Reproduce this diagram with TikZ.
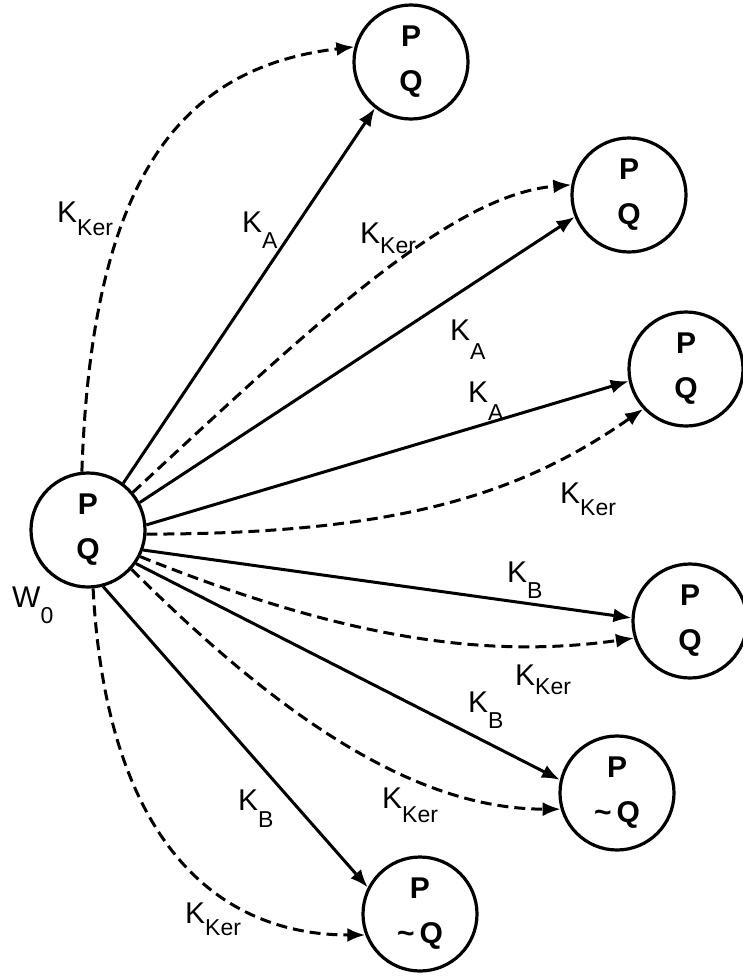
\documentclass[tikz,border=0pt]{standalone}
\usepackage{fontspec}
\setmainfont{Liberation Sans}
\usetikzlibrary{arrows.meta}
\newcommand\Klab[3]{#1\raisebox{-#3pt}{\fontsize{23}{23}\selectfont #2}}
\begin{document}
\begin{tikzpicture}[x=1pt,y=-1pt,
  world/.style={circle,draw,line width=3.2pt,minimum size=114pt,inner sep=0pt,align=center,
    font=\fontsize{30}{45}\selectfont\bfseries},
  acc/.style={line width=3pt,-{Latex[length=18pt,width=14pt]}},
  ker/.style={acc,dash pattern=on 11pt off 6pt},
  lab/.style={anchor=base west,inner sep=0pt,font=\fontsize{30}{30}\selectfont}]
\useasboundingbox (0,0) rectangle (743,977);
% worlds
\node[world] (w0) at (88,530) {P\\Q};
\node[world] (n1) at (411,62) {P\\Q};
\node[world] (n2) at (629,195) {P\\Q};
\node[world] (n3) at (686,369) {P\\Q};
\node[world] (n4) at (690,621) {P\\Q};
\node[world] (n5) at (617,793) {P\\\textasciitilde\,Q};
\node[world] (n6) at (420,914) {P\\\textasciitilde\,Q};
% solid accessibility
\draw[acc] (w0.53) -- (n1.-128);
\draw[acc] (w0.28) -- (n2.-158);
\draw[acc] (w0.5) -- (n3.-168);
\draw[acc] (w0.-20) -- (n4.177);
\draw[acc] (w0.-35) -- (n5.167);
\draw[acc] (w0.-75) -- (n6.153);
% dashed kernel
\draw[ker] (w0.96) .. controls +(10,-300) and +(-170,20) .. (n1.165);
\draw[ker] (w0.40) .. controls +(183,-170) and +(-120,10) .. (n2.170);
\draw[ker] (w0.-4) .. controls +(250,0) and +(-123,86) .. (n3.-137);
\draw[ker] (w0.-27) .. controls +(204,82) and +(-148,21) .. (n4.-163);
\draw[ker] (w0.-42) .. controls +(141,141) and +(-150,0) .. (n5.-164);
\draw[ker] (w0.-85) .. controls +(13,250) and +(-150,0) .. (n6.-159);
% labels
\node[lab] (l1) at (57,222) {\Klab{K}{Ker}{13}};
\node[lab] (l2) at (242,232) {\Klab{K}{A}{16}};
\node[lab] (l3) at (360,243) {\Klab{K}{Ker}{10}};
\node[lab] (l4) at (450,340) {\Klab{K}{A}{19}};
\node[lab] (l5) at (468,402) {\Klab{K}{A}{18}};
\node[lab] (l6) at (560,503) {\Klab{K}{Ker}{12}};
\node[lab] (l7) at (507,582) {\Klab{K}{B}{16}};
\node[lab] (l8) at (515,685) {\Klab{K}{Ker}{9}};
\node[lab] (l9) at (468,712) {\Klab{K}{B}{16}};
\node[lab] (l10) at (382,808) {\Klab{K}{Ker}{14}};
\node[lab] (l11) at (238,810) {\Klab{K}{B}{17}};
\node[lab] (l12) at (185,923) {\Klab{K}{Ker}{12}};
\node[lab] (w0lab) at (12,607) {\Klab{W}{0}{16}};
\end{tikzpicture}
\end{document}
